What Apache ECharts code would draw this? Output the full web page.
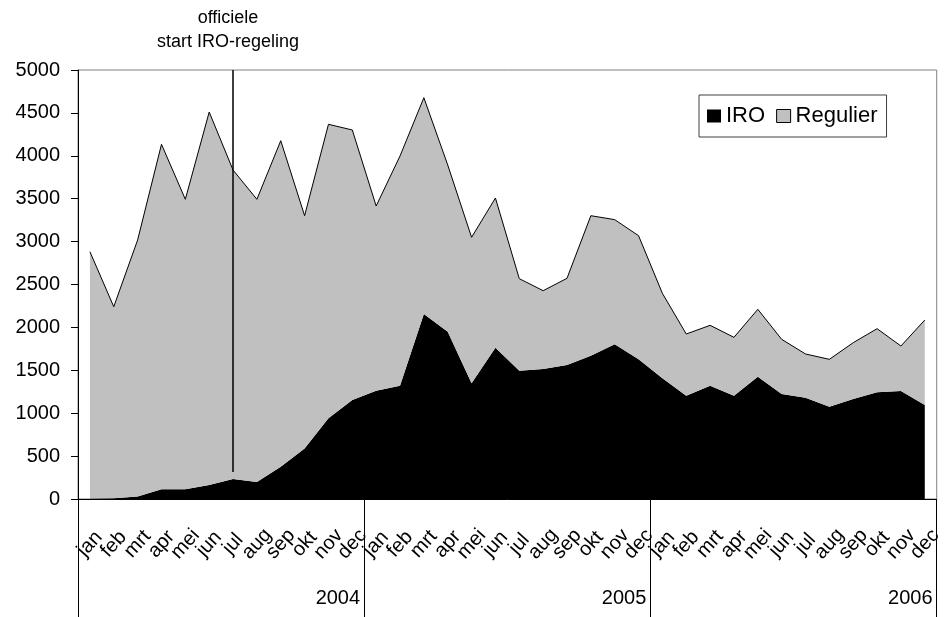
<!DOCTYPE html>
<html>
<head>
<meta charset="utf-8">
<script src="https://cdn.jsdelivr.net/npm/echarts@6/dist/echarts.min.js"></script>
<style>
html,body{margin:0;padding:0;background:#fff;}
#chart{width:945px;height:617px;}
</style>
</head>
<body>
<div id="chart"></div>
<script>
var months = ['jan','feb','mrt','apr','mei','jun','jul','aug','sep','okt','nov','dec'];
var years = ['2004','2005','2006'];
var iro = [
  5, 10, 30, 113, 115, 163, 233, 198, 377, 590, 940, 1154,
  1262, 1321, 2156, 1950, 1348, 1764, 1496, 1515, 1562, 1671, 1803, 1628,
  1407, 1204, 1321, 1204, 1426, 1224, 1181, 1076, 1166, 1243, 1259, 1096
];
var regulier = [
  2877, 2231, 2989, 4021, 3378, 4347, 3601, 3295, 3799, 2712, 3427, 3147,
  2153, 2677, 2521, 1943, 1702, 1744, 1072, 913, 1010, 1631, 1453, 1441,
  990, 719, 703, 680, 785, 637, 509, 552, 656, 742, 524, 990
];
var yTicks = {min: 0, max: 5000, interval: 500};
var markerMonth = 6;          // jul 2004
var markerRange = [5000, 315];
var annotation = 'officiele\nstart IRO-regeling';

var FONT = "'Liberation Sans', Arial, sans-serif";
var categories = [];
years.forEach(function (y) { months.forEach(function (m) { categories.push(m + '|' + y); }); });

var chart = echarts.init(document.getElementById('chart'), null, {renderer: 'canvas'});
chart.setOption({
  animation: false,
  backgroundColor: '#ffffff',
  textStyle: {fontFamily: FONT},
  grid: {left: 78, right: 7, top: 70, bottom: 118, show: true, borderColor: '#808080', borderWidth: 1, backgroundColor: 'transparent'},
  legend: {
    left: 699, top: 95,
    padding: [8, 9, 8, 8],
    borderColor: '#404040', borderWidth: 1,
    backgroundColor: '#ffffff',
    itemWidth: 14, itemHeight: 13, itemGap: 11,
    icon: 'rect',
    textStyle: {fontFamily: FONT, fontSize: 22, color: '#000', lineHeight: 26},
    data: [
      {name: 'IRO', itemStyle: {color: '#000000'}},
      {name: 'Regulier', itemStyle: {color: '#C0C0C0', borderColor: '#000', borderWidth: 1}}
    ]
  },
  graphic: [{
    type: 'text', silent: true,
    style: {text: annotation, x: 228, y: 6, textAlign: 'center', textVerticalAlign: 'top',
      font: '18px ' + FONT, lineHeight: 24, fill: '#000'}
  }],
  xAxis: [{
    type: 'category',
    data: categories,
    boundaryGap: true,
    position: 'bottom',
    axisLine: {show: true, lineStyle: {color: '#000', width: 1}},
    axisTick: {show: false},
    axisLabel: {
      interval: 0, rotate: 48, align: 'center', verticalAlign: 'middle', margin: 45,
      fontFamily: FONT, fontSize: 20, color: '#000',
      formatter: function (v) { return v.split('|')[0]; }
    },
    splitLine: {show: false}
  }, {
    type: 'category',
    data: years,
    boundaryGap: true,
    position: 'bottom',
    offset: 0,
    axisLine: {show: false},
    axisTick: {show: true, length: 120, lineStyle: {color: '#000', width: 1}},
    axisLabel: {
      interval: 0, margin: 89,
      formatter: '{a|{value}}',
      rich: {a: {width: 278, align: 'right', fontFamily: FONT, fontSize: 20, color: '#000'}}
    },
    splitLine: {show: false}
  }],
  yAxis: {
    type: 'value',
    min: yTicks.min, max: yTicks.max, interval: yTicks.interval,
    axisLine: {show: true, lineStyle: {color: '#000', width: 1}},
    axisTick: {show: true, length: 7, lineStyle: {color: '#000'}},
    axisLabel: {fontFamily: FONT, fontSize: 20, color: '#000', margin: 18,
      formatter: function (v) { return String(v); }},
    splitLine: {show: false}
  },
  series: [{
    name: 'IRO', type: 'line', stack: 'total',
    data: iro, symbol: 'none',
    itemStyle: {color: '#000000'},
    lineStyle: {width: 0, color: '#000'},
    areaStyle: {color: '#000000', opacity: 1},
    markLine: {
      silent: true, symbol: 'none',
      label: {show: false},
      lineStyle: {color: '#000', width: 1.5, type: 'solid'},
      data: [[{coord: [markerMonth, markerRange[0]]}, {coord: [markerMonth, markerRange[1]]}]]
    }
  }, {
    name: 'Regulier', type: 'line', stack: 'total',
    data: regulier, symbol: 'none',
    itemStyle: {color: '#C0C0C0'},
    lineStyle: {width: 1, color: '#000'},
    areaStyle: {color: '#C0C0C0', opacity: 1}
  }]
});
</script>
</body>
</html>
